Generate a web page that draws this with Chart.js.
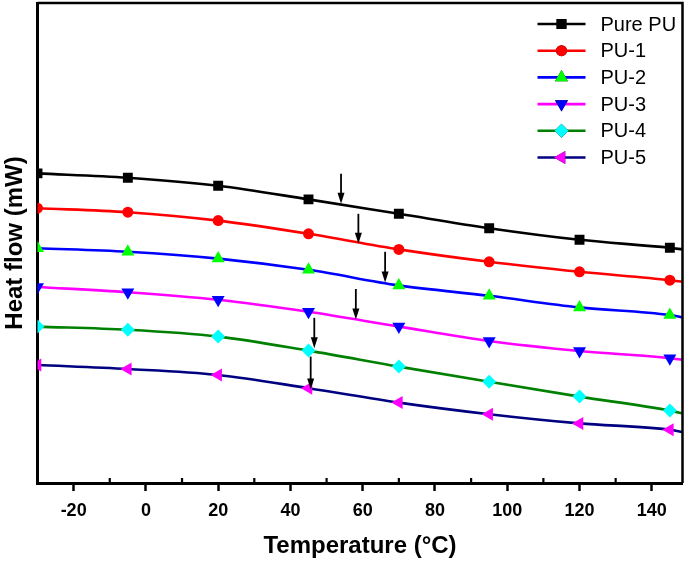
<!DOCTYPE html>
<html>
<head>
<meta charset="utf-8">
<script src="https://cdn.jsdelivr.net/npm/chart.js"></script>
<style>
    html, body { margin: 0; padding: 0; background: #fff; }
    #wrap { width: 685px; height: 564px; }
</style>
</head>
<body>
<div id="wrap"><canvas id="dscChart" width="685" height="564"></canvas></div>
<script>
/* ======================
   DATA
   ====================== */

// Temperature (°C) at each marker, last point is the right edge of the frame
const temperatures = [-30, -5, 20, 45, 70, 95, 120, 145, 148.5];

// Heat flow, arbitrary offset units (curves are stacked)
const purePU = [7.74, 7.63, 7.43, 7.09, 6.73, 6.37, 6.08, 5.88, 5.84];
const pu1    = [6.87, 6.77, 6.56, 6.23, 5.84, 5.53, 5.28, 5.07, 5.03];
const pu2    = [5.87, 5.78, 5.61, 5.33, 4.94, 4.68, 4.39, 4.20, 4.14];
const pu3    = [4.90, 4.77, 4.58, 4.28, 3.91, 3.55, 3.30, 3.12, 3.08];
const pu4    = [3.91, 3.83, 3.66, 3.31, 2.91, 2.53, 2.16, 1.81, 1.74];
const pu5    = [2.95, 2.85, 2.70, 2.37, 2.01, 1.72, 1.49, 1.33, 1.27];

const seriesLabels = ['Pure PU', 'PU-1', 'PU-2', 'PU-3', 'PU-4', 'PU-5'];

// Tg arrows: temperature, start and tip (heat flow units)
const arrowTemps = [54.0, 58.8, 66.2, 58.1, 46.6, 45.6];
const arrowStart = [7.73, 6.73, 5.78, 4.85, 4.13, 3.16];
const arrowEnd   = [6.98, 5.98, 5.01, 4.09, 3.37, 2.34];

// Minor ticks on the x axis (drawn inwards)
const minorTicks = [-10, 10, 30, 50, 70, 90, 110, 130];

/* ======================
   STYLES
   ====================== */

const styles = [
    { line: '#000000', fill: '#000000', shape: 'rect', rotation: 0, radius: 7 },
    { line: '#ff0000', fill: '#ff0000', shape: 'circle', rotation: 0, radius: 5.5 },
    { line: '#0000ff', fill: '#00ff00', shape: 'triangle', rotation: 0, radius: 7.5 },
    { line: '#ff00ff', fill: '#0000ff', shape: 'triangle', rotation: 180, radius: 7.5 },
    { line: '#008000', fill: '#00ffff', shape: 'rectRot', rotation: 0, radius: 7 },
    { line: '#000080', fill: '#ff00ff', shape: 'triangle', rotation: -90, radius: 7.5 }
];

const toPoints = (values) => values.map((v, i) => ({ x: temperatures[i], y: v }));

const buildDataset = (label, values, style) => ({
    label,
    data: toPoints(values),
    borderColor: style.line,
    borderWidth: 2.6,
    backgroundColor: style.fill,
    pointBackgroundColor: style.fill,
    pointBorderColor: style.fill,
    pointBorderWidth: 0,
    pointStyle: style.shape,
    pointRotation: style.rotation,
    pointRadius: temperatures.map((t, i) => i === temperatures.length - 1 ? 0 : style.radius),
    pointHoverRadius: 0,
    cubicInterpolationMode: 'monotone',
    clip: 0
});

// keep the frame exactly where the layout padding puts it
const noScalePadding = (axis) => {
    axis.paddingLeft = 0;
    axis.paddingRight = 0;
    axis.paddingTop = 0;
    axis.paddingBottom = 0;
};

/* ======================
   PLUGINS
   ====================== */

const frameAndTicks = {
    id: 'frameAndTicks',
    afterDraw: (chart) => {
        const { ctx, chartArea: a, scales } = chart;
        ctx.save();
        ctx.strokeStyle = '#000';
        ctx.lineWidth = 2.5;
        ctx.beginPath();
        ctx.moveTo(a.left, a.top);
        ctx.lineTo(a.right, a.top);
        ctx.lineTo(a.right, a.bottom);
        ctx.stroke();

        // minor ticks pointing into the plot
        ctx.lineWidth = 2.2;
        minorTicks.forEach(t => {
            const x = scales.x.getPixelForValue(t);
            ctx.beginPath();
            ctx.moveTo(x, a.bottom);
            ctx.lineTo(x, a.bottom - 5);
            ctx.stroke();
        });
        ctx.restore();
    }
};

const tgArrows = {
    id: 'tgArrows',
    afterDatasetsDraw: (chart) => {
        const { ctx, scales } = chart;
        ctx.save();
        ctx.strokeStyle = '#000';
        ctx.fillStyle = '#000';
        ctx.lineWidth = 1.8;
        arrowTemps.forEach((t, i) => {
            const x = scales.x.getPixelForValue(t);
            const y0 = scales.y.getPixelForValue(arrowStart[i]);
            const y1 = scales.y.getPixelForValue(arrowEnd[i]);
            const head = 11;
            ctx.beginPath();
            ctx.moveTo(x, y0);
            ctx.lineTo(x, y1 - head + 1);
            ctx.stroke();
            ctx.beginPath();
            ctx.moveTo(x - 3.5, y1 - head);
            ctx.lineTo(x + 3.5, y1 - head);
            ctx.lineTo(x, y1);
            ctx.closePath();
            ctx.fill();
        });
        ctx.restore();
    }
};

const lineLegend = {
    id: 'lineLegend',
    afterDraw: (chart) => {
        const { ctx, chartArea: a } = chart;
        ctx.save();
        ctx.font = '20px "Liberation Sans", Arial, sans-serif';
        ctx.textBaseline = 'middle';
        ctx.textAlign = 'left';
        chart.data.datasets.forEach((ds, i) => {
            const y = a.top + 21 + i * 26.7;
            const x0 = a.right - 145;
            const x1 = a.right - 97;
            ctx.strokeStyle = ds.borderColor;
            ctx.lineWidth = 2.6;
            ctx.beginPath();
            ctx.moveTo(x0, y);
            ctx.lineTo(x1, y);
            ctx.stroke();
            Chart.helpers.drawPoint(ctx, {
                pointStyle: ds.pointStyle,
                rotation: ds.pointRotation,
                radius: ds.pointRadius[0],
                borderWidth: 0
            }, (x0 + x1) / 2, y);
            ctx.fillStyle = ds.pointBackgroundColor;
            ctx.fill();
            ctx.fillStyle = '#000';
            ctx.fillText(ds.label, a.right - 82, y + 1);
        });
        ctx.restore();
    }
};

/* ======================
   CHART
   ====================== */

const allSeries = [purePU, pu1, pu2, pu3, pu4, pu5];

new Chart(document.getElementById('dscChart'), {
    type: 'line',
    data: {
        datasets: allSeries.map((values, i) => buildDataset(seriesLabels[i], values, styles[i]))
    },
    options: {
        responsive: false,
        animation: false,
        events: [],
        layout: { autoPadding: false, padding: { top: 3, right: 2.5, left: 0, bottom: 0 } },
        plugins: {
            legend: { display: false },
            tooltip: { enabled: false }
        },
        scales: {
            x: {
                type: 'linear',
                min: -30,
                max: 148.5,
                afterFit: (axis) => { axis.height = 81; noScalePadding(axis); },
                border: { display: true, color: '#000', width: 3 },
                grid: {
                    display: true,
                    drawOnChartArea: false,
                    drawTicks: true,
                    tickLength: 8,
                    tickWidth: 2.5,
                    tickColor: '#000'
                },
                ticks: {
                    stepSize: 20,
                    includeBounds: false,
                    padding: 9,
                    color: '#000',
                    font: { family: '"Liberation Sans", Arial, sans-serif', size: 18, weight: 'bold' }
                },
                title: {
                    display: true,
                    text: 'Temperature (°C)',
                    color: '#000',
                    padding: { top: 0, bottom: 3 },
                    font: { family: '"Liberation Sans", Arial, sans-serif', size: 24, weight: 'bold' }
                }
            },
            y: {
                min: 0,
                max: 12,
                afterFit: (axis) => { axis.width = 37.5; noScalePadding(axis); },
                border: { display: true, color: '#000', width: 3 },
                grid: { display: false, drawTicks: false },
                ticks: { display: false },
                title: {
                    display: true,
                    text: 'Heat flow (mW)',
                    color: '#000',
                    padding: { top: 1, bottom: 0 },
                    font: { family: '"Liberation Sans", Arial, sans-serif', size: 24, weight: 'bold' }
                }
            }
        }
    },
    plugins: [frameAndTicks, tgArrows, lineLegend]
});
</script>
</body>
</html>
